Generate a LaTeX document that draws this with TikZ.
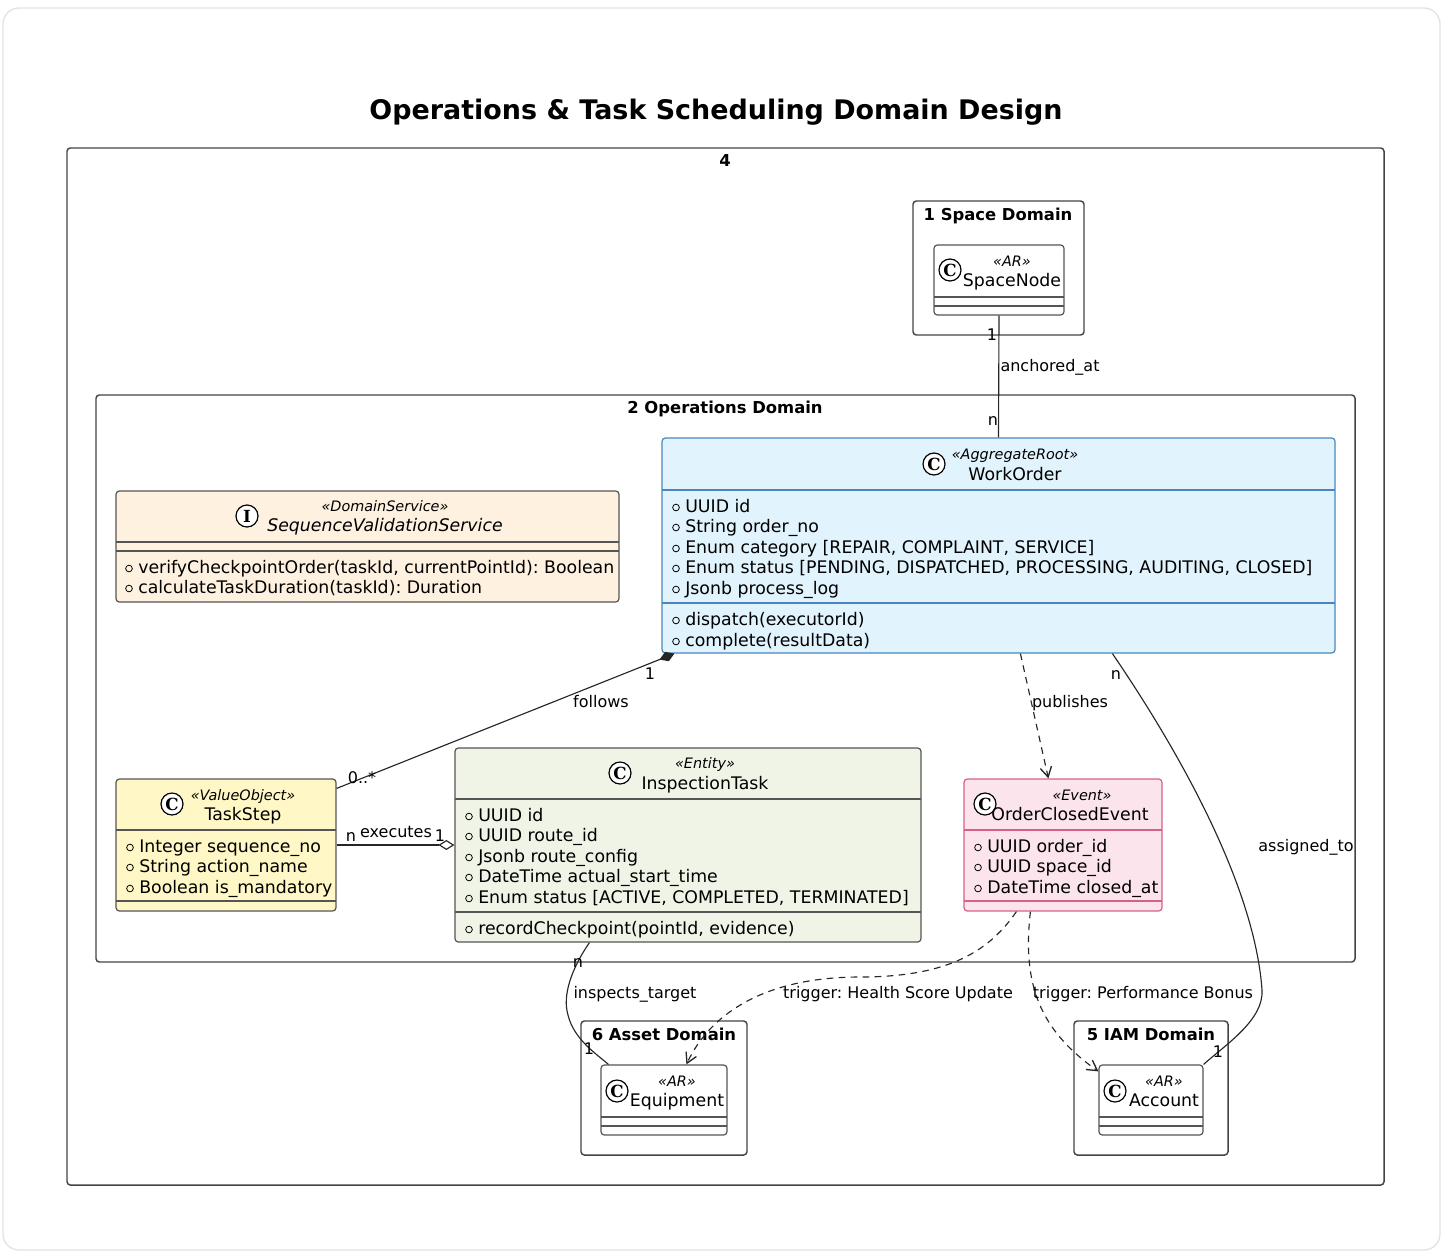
\documentclass[tikz,border=0pt]{standalone}
\usepackage{fontspec}
\setmainfont{DejaVu Sans}
\newfontfamily\iconfont{DejaVu Serif}
\usetikzlibrary{arrows.meta,fit,calc}
\frenchspacing
\definecolor{pkgc}{HTML}{444444}
\definecolor{clsc}{HTML}{555555}
\definecolor{wofill}{HTML}{E1F3FC}
\definecolor{wodraw}{HTML}{4A86BE}
\definecolor{svfill}{HTML}{FEF1E0}
\definecolor{tsfill}{HTML}{FFF8C6}
\definecolor{itfill}{HTML}{EFF4E7}
\definecolor{oefill}{HTML}{FCE4EC}
\definecolor{oedraw}{HTML}{D6608C}
\definecolor{framec}{HTML}{E2E2E2}
\tikzset{
  pkg/.style={draw=pkgc, line width=1.1pt, rounded corners=2.5pt, inner sep=0pt},
  cls/.style={draw=clsc, line width=0.9pt, rounded corners=2.5pt, inner sep=0pt},
  sepline/.style={line width=0.9pt},
  body/.style={font=\fontsize{13}{15}\selectfont, inner sep=0pt, anchor=base west},
  ster/.style={font=\fontsize{10.8}{12}\selectfont\itshape, inner sep=0pt, anchor=base},
  cname/.style={font=\fontsize{13}{15}\selectfont, inner sep=0pt, anchor=base},
  plabel/.style={font=\fontsize{12.3}{14}\selectfont\bfseries, inner sep=0pt, anchor=base},
  elabel/.style={font=\fontsize{12}{14}\selectfont, inner sep=0pt, anchor=base},
  icon/.style={circle, draw=black, fill=white, line width=0.9pt, minimum size=16.5pt, inner sep=0pt, font=\iconfont\bfseries\fontsize{12.5}{12.5}\selectfont},
  vis/.style={circle, draw=black, line width=0.6pt, minimum size=5pt, inner sep=0pt},
  conn/.style={draw=black!85, line width=0.85pt},
  dashconn/.style={conn, dash pattern=on 5pt off 4pt},
  barb/.style={-{Straight Barb[length=7.5pt,width=8.5pt,line width=1pt]}},
}
\newcommand\attrrow[4]{%
  \node[vis] (#1m) at ({#2+4},{#3+1.5}) {};
  \node[body] (#1) at ({#2+13},{#3+6.3}) {#4};}
\begin{document}
\begin{tikzpicture}[x=0.75pt,y=-0.75pt]
\useasboundingbox (0,0) rectangle (1445,1253);
\draw[framec, line width=1pt, rounded corners=12pt] (3,8) rectangle (1440,1250);

% title
\node[font=\fontsize{20.2}{24}\selectfont\bfseries, inner sep=0pt, anchor=base] (title) at (716,119.7) {Operations \& Task Scheduling Domain Design};

% packages
\node[pkg, fit={(67,148) (1384,1185)}] (p4) {};
\node[plabel] (p4l) at (725,166.9) {4};
\node[pkg, fit={(913,201) (1084,335)}] (p1) {};
\node[plabel] (p1l) at (998,220.9) {1 Space Domain};
\node[pkg, fit={(96,395) (1355,962)}] (p2) {};
\node[plabel] (p2l) at (725,413.9) {2 Operations Domain};
\node[pkg, fit={(581,1021) (747,1155)}] (p6) {};
\node[plabel] (p6l) at (664,1040.9) {6 Asset Domain};
\node[pkg, fit={(1074,1021) (1228,1155)}] (p5) {};
\node[plabel] (p5l) at (1151,1040.9) {5 IAM Domain};

% SpaceNode
\node[cls, fill=white, fit={(934,245) (1064,315)}] (sn) {};
\draw[sepline, clsc] (934,297) -- (1064,297) (934,306) -- (1064,306);
\node[icon] (snI) at (950,270) {C};
\node[ster] (snS) at (1012,266.2) {«AR»};
\node[cname] (snN) at (1012,286.3) {SpaceNode};

% WorkOrder
\node[cls, draw=wodraw, fill=wofill, fit={(662,438) (1335,653)}] (wo) {};
\draw[sepline, wodraw] (662,490) -- (1335,490) (662,603) -- (1335,603);
\node[icon] (woI) at (934,464) {C};
\node[ster] (woS) at (1015,459.2) {«AggregateRoot»};
\node[cname] (woN) at (1015,480.3) {WorkOrder};
\attrrow{woa1}{672}{506}{UUID id}
\attrrow{woa2}{672}{526}{String order\_no}
\attrrow{woa3}{672}{547}{Enum category [REPAIR, COMPLAINT, SERVICE]}
\attrrow{woa4}{672}{567}{Enum status [PENDING, DISPATCHED, PROCESSING, AUDITING, CLOSED]}
\attrrow{woa5}{672}{588}{Jsonb process\_log}
\attrrow{wom1}{672}{619}{dispatch(executorId)}
\attrrow{wom2}{672}{640}{complete(resultData)}

% SequenceValidationService
\node[cls, fill=svfill, fit={(116,491) (619,602)}] (svs) {};
\draw[sepline, clsc] (116,542) -- (619,542) (116,551) -- (619,551);
\node[icon] (svsI) at (247,516) {I};
\node[ster] (svsS) at (385,511.2) {«DomainService»};
\node[cname, font=\fontsize{13}{15}\selectfont\itshape] (svsN) at (385,531.3) {SequenceValidationService};
\attrrow{svm1}{125}{567}{verifyCheckpointOrder(taskId, currentPointId): Boolean}
\attrrow{svm2}{125}{587}{calculateTaskDuration(taskId): Duration}

% TaskStep
\node[cls, fill=tsfill, fit={(116,779) (336,911)}] (ts) {};
\draw[sepline, clsc] (116,830) -- (336,830) (116,901) -- (336,901);
\node[icon] (tsI) at (172,804) {C};
\node[ster] (tsS) at (243,800.2) {«ValueObject»};
\node[cname] (tsN) at (243,820.3) {TaskStep};
\attrrow{tsa1}{126}{846}{Integer sequence\_no}
\attrrow{tsa2}{126}{866}{String action\_name}
\attrrow{tsa3}{126}{887}{Boolean is\_mandatory}

% InspectionTask
\node[cls, fill=itfill, fit={(455,748) (921,942)}] (it) {};
\draw[sepline, clsc] (455,799) -- (921,799) (455,912) -- (921,912);
\node[icon] (itI) at (620,773) {C};
\node[ster] (itS) at (705,768.2) {«Entity»};
\node[cname] (itN) at (705,789.3) {InspectionTask};
\attrrow{ita1}{465}{815}{UUID id}
\attrrow{ita2}{465}{835}{UUID route\_id}
\attrrow{ita3}{465}{856}{Jsonb route\_config}
\attrrow{ita4}{465}{876}{DateTime actual\_start\_time}
\attrrow{ita5}{465}{897}{Enum status [ACTIVE, COMPLETED, TERMINATED]}
\attrrow{itm1}{465}{928}{recordCheckpoint(pointId, evidence)}

% OrderClosedEvent
\node[cls, draw=oedraw, fill=oefill, fit={(964,779) (1162,911)}] (oce) {};
\draw[sepline, oedraw] (964,830) -- (1162,830) (964,901) -- (1162,901);
\node[icon] (oceI) at (985,804) {C};
\node[ster] (oceS) at (1082,800.2) {«Event»};
\node[cname] (oceN) at (1070,820.3) {OrderClosedEvent};
\attrrow{oea1}{974}{846}{UUID order\_id}
\attrrow{oea2}{974}{866}{UUID space\_id}
\attrrow{oea3}{974}{887}{DateTime closed\_at}

% Equipment
\node[cls, fill=white, fit={(601,1065) (727,1135)}] (eq) {};
\draw[sepline, clsc] (601,1117) -- (727,1117) (601,1126) -- (727,1126);
\node[icon] (eqI) at (617,1091) {C};
\node[ster] (eqS) at (677,1086.2) {«AR»};
\node[cname] (eqN) at (677,1106.3) {Equipment};

% Account
\node[cls, fill=white, fit={(1099,1065) (1203,1135)}] (acc) {};
\draw[sepline, clsc] (1099,1117) -- (1203,1117) (1099,1126) -- (1203,1126);
\node[icon] (accI) at (1115,1091) {C};
\node[ster] (accS) at (1164,1086.2) {«AR»};
\node[cname] (accN) at (1164,1106.3) {Account};

% connectors
\draw[conn] (sn.south) -- (wo.north);
\node[elabel] (l1a) at (992,340.8) {1};
\node[elabel] (l1b) at (993,425.8) {n};
\node[elabel] (l1c) at (1050,371.8) {anchored\_at};

\draw[conn, {Diamond[length=12pt,width=7.5pt]}-] ($(wo.south west)+(13,0)$) -- ($(ts.north east)+(0,10)$);
\node[elabel] (l2a) at (650,679.8) {1};
\node[elabel] (l2b) at (601,707.8) {follows};
\node[elabel] (l2c) at (362,783.8) {0..*};

\draw[conn, -{Diamond[open,length=12pt,width=7.5pt]}] (ts.east) -- (it.west);
\node[elabel] (l3a) at (351,841.8) {n};
\node[elabel] (l3b) at (396,837.8) {executes};
\node[elabel] (l3c) at (440,841.8) {1};

\draw[dashconn, barb] ($(wo.south west)+(359,0)$) -- ($(oce.north west)+(85,0)$);
\node[elabel] (l4a) at (1070,707.8) {publishes};

\draw[conn] ($(wo.south west)+(451,0)$) .. controls (1185,760) and (1255,890) .. (1262,990) .. controls (1264,1020) and (1225,1045) .. (acc.north east);
\node[elabel] (l5a) at (1116,679.8) {n};
\node[elabel] (l5b) at (1306,851.8) {assigned\_to};
\node[elabel] (l5c) at (1218,1057.8) {1};

\draw[conn] ($(it.south west)+(135,0)$) .. controls (572,968) and (562,995) .. (568,1015) .. controls (574,1040) and (598,1055) .. ($(eq.north west)+(8,0)$);
\node[elabel] (l6a) at (578,967.8) {n};
\node[elabel] (l6b) at (635,998.8) {inspects\_target};
\node[elabel] (l6c) at (589,1054) {1};

\draw[dashconn, barb] ($(oce.south west)+(53,0)$) .. controls (990,950) and (950,977) .. (860,977) .. controls (770,977) and (712,1010) .. ($(eq.north west)+(86,0)$);
\node[elabel] (l7a) at (898,998.8) {trigger: Health Score Update};

\draw[dashconn, barb] ($(oce.south west)+(67,0)$) .. controls (1022,985) and (1040,1030) .. ($(acc.north west)+(0,7)$);
\node[elabel] (l8a) at (1143,998.8) {trigger: Performance Bonus};
\end{tikzpicture}
\end{document}
